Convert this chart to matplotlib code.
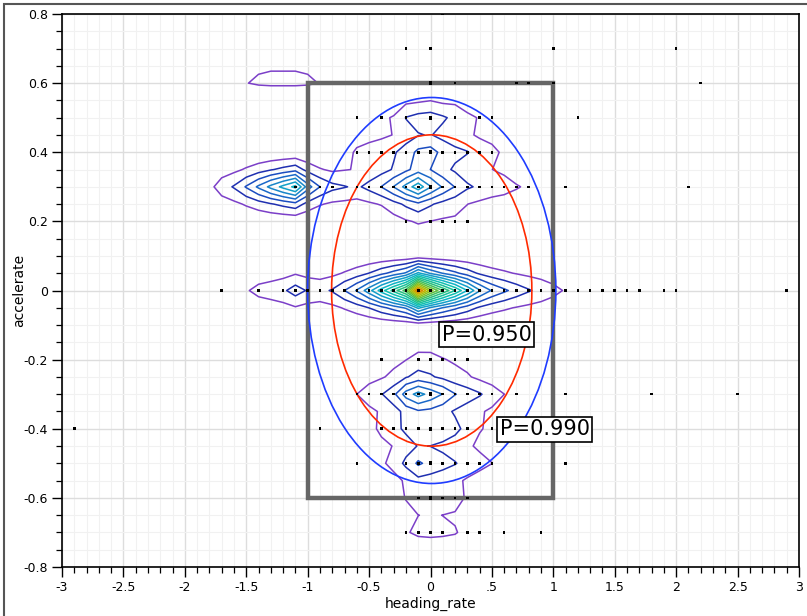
import numpy as np
import matplotlib
matplotlib.use("Agg")
import matplotlib.pyplot as plt
from matplotlib.patches import Ellipse, Rectangle
from matplotlib.ticker import MultipleLocator

# ---------------- data ----------------
# observed (heading_rate, accelerate) sample positions (drawn as dots)
dot_rows_y = [0.8, 0.7, 0.6, 0.5, 0.4, 0.3, 0.2, 0.0, -0.2, -0.3, -0.4, -0.5, -0.6, -0.7]
dot_rows_x = [
    [0.1],
    [-0.2, 0.0, 1.0, 2.0],
    [0.0, 0.2, 0.7, 0.8, 1.0, 2.2],
    [-0.6, -0.4, -0.2, 0.0, 0.2, 0.4, 0.5, 1.2],
    [-0.6, -0.5, -0.4, -0.3, -0.2, -0.1, 0.0, 0.1, 0.2, 0.3, 0.4, 0.5],
    [-1.1, -0.9, -0.8, -0.6, -0.5, -0.4, -0.3, -0.2, -0.1, 0.0, 0.1, 0.2, 0.3,
     0.4, 0.5, 0.6, 0.7, 0.8, 1.1, 2.1],
    [-0.2, 0.0, 0.1, 0.2, 0.3],
    [-1.7, -1.4, -1.2, -1.1, -1.0, -0.9, -0.8, -0.7, -0.6, -0.5, -0.4, -0.3, -0.2,
     -0.1, 0.0, 0.1, 0.2, 0.3, 0.4, 0.5, 0.6, 0.7, 0.8, 0.9, 1.0, 1.1, 1.2, 1.3,
     1.4, 1.5, 1.6, 1.7, 1.9, 2.0, 2.9],
    [-0.4, -0.1, 0.0, 0.1, 0.2, 0.3],
    [-0.6, -0.5, -0.4, -0.3, -0.2, -0.1, 0.0, 0.1, 0.2, 0.3, 0.4, 0.5, 0.7, 1.1, 1.8, 2.5],
    [-2.9, -0.9, -0.4, -0.3, -0.2, -0.1, 0.0, 0.1, 0.2, 0.3, 0.5],
    [-0.6, -0.2, -0.1, 0.0, 0.1, 0.2, 0.3, 0.4, 0.5, 1.1],
    [-0.1, 0.0, 0.1, 0.2, 0.3],
    [-0.2, -0.1, 0.0, 0.1, 0.3, 0.4, 0.6, 0.9],
]

# weighted support of the density estimate (row y, x positions, weights)
dens_rows_y = [0.8, 0.7, 0.62, 0.6, 0.5, 0.4, 0.3, 0.2, 0.0, -0.2, -0.3, -0.4, -0.5, -0.6, -0.7]
dens_rows_x = [
    [0.1],
    [-0.2, 0.0, 1.0, 2.0],
    [-1.5, -1.4, -1.3, -1.2, -1.1, -1.0, -0.9],
    [0.0, 0.2, 0.7, 0.8, 1.0, 2.2],
    [-0.7, -0.6, -0.5, -0.4, -0.3, -0.2, -0.1, 0.0, 0.1, 0.2, 0.3, 0.4, 0.5, 0.6, 1.2],
    [-0.7, -0.6, -0.5, -0.4, -0.3, -0.2, -0.1, 0.0, 0.1, 0.2, 0.3, 0.4, 0.5, 0.6],
    [-1.9, -1.8, -1.7, -1.6, -1.5, -1.4, -1.3, -1.2, -1.1, -1.0, -0.9, -0.8, -0.7,
     -0.6, -0.5, -0.4, -0.3, -0.2, -0.1, 0.0, 0.1, 0.2, 0.3, 0.4, 0.5, 0.6, 0.7,
     0.8, 1.1, 2.1],
    [-0.3, -0.2, -0.1, 0.0, 0.1, 0.2, 0.3, 0.4],
    [-1.7, -1.6, -1.5, -1.4, -1.3, -1.2, -1.1, -1.0, -0.9, -0.8, -0.7, -0.6, -0.5,
     -0.4, -0.3, -0.2, -0.1, 0.0, 0.1, 0.2, 0.3, 0.4, 0.5, 0.6, 0.7, 0.8, 0.9,
     1.0, 1.1, 1.2, 1.3, 1.4, 1.5, 1.6, 1.7, 1.9, 2.0, 2.9],
    [-0.5, -0.4, -0.3, -0.2, -0.1, 0.0, 0.1, 0.2, 0.3],
    [-0.8, -0.7, -0.6, -0.5, -0.4, -0.3, -0.2, -0.1, 0.0, 0.1, 0.2, 0.3, 0.4, 0.5,
     0.6, 0.7, 1.1, 1.8, 2.5],
    [-2.9, -1.0, -0.9, -0.5, -0.4, -0.3, -0.2, -0.1, 0.0, 0.1, 0.2, 0.3, 0.4, 0.5, 0.6],
    [-0.7, -0.6, -0.5, -0.4, -0.3, -0.2, -0.1, 0.0, 0.1, 0.2, 0.3, 0.4, 0.5, 0.6, 1.1],
    [-0.3, -0.2, -0.1, 0.0, 0.1, 0.2, 0.3, 0.4],
    [-0.3, -0.2, -0.1, 0.0, 0.1, 0.2, 0.3, 0.4, 0.6, 0.9],
]
dens_rows_w = [
    [0.3],
    [0.3, 0.3, 0.3, 0.3],
    [1.15, 1.3, 1.35, 1.35, 1.35, 1.3, 1.15],
    [0.3, 0.4, 0.4, 0.4, 0.4, 0.3],
    [0.4, 0.6, 0.7, 0.8, 1.05, 2.0, 2.3, 2.4, 2.1, 1.7, 1.2, 0.9, 0.8, 0.5, 0.4],
    [0.6, 1.1, 1.3, 1.5, 1.8, 2.3, 3.1, 3.3, 2.6, 2.2, 2.0, 1.5, 1.2, 0.8],
    [0.3, 0.7, 1.5, 2.1, 3.1, 4.2, 5.3, 6.3, 7.3, 4.5, 3.0, 2.3, 2.05,
     1.8, 2.3, 3.0, 4.0, 5.3, 6.6, 5.0, 3.8, 2.9, 2.1, 1.8, 1.6, 1.4, 1.1,
     0.8, 0.4, 0.3],
    [0.5, 0.8, 1.0, 0.9, 0.8, 0.8, 0.7, 0.4],
    [0.5, 0.6, 0.9, 1.3, 1.5, 1.8, 2.5, 1.9, 1.7, 2.1, 3.0, 4.1, 5.6,
     7.5, 9.4, 11.5, 17.3, 13.5, 11.0, 9.0, 7.0, 5.1, 3.9, 3.2, 2.6, 2.1, 1.7,
     1.3, 0.9, 0.6, 0.5, 0.5, 0.5, 0.5, 0.5, 0.4, 0.4, 0.3],
    [0.3, 0.6, 0.7, 0.9, 1.3, 1.3, 1.0, 0.8, 0.6],
    [0.4, 0.7, 1.0, 1.5, 1.9, 2.7, 4.4, 5.3, 4.6, 3.9, 3.0, 2.5, 2.1, 1.5,
     1.0, 0.7, 0.4, 0.3, 0.3],
    [0.3, 0.3, 0.4, 0.6, 1.2, 1.6, 2.1, 2.6, 2.9, 2.6, 2.2, 1.6, 1.0, 0.8, 0.4],
    [0.3, 0.5, 0.5, 0.8, 1.3, 2.2, 3.1, 2.6, 2.3, 2.0, 1.6, 1.3, 1.0, 0.5, 0.3],
    [0.5, 1.0, 1.6, 1.8, 1.6, 1.4, 0.8, 0.3],
    [0.4, 0.9, 1.15, 1.2, 1.15, 1.05, 0.7, 0.6, 0.4, 0.3],
]

contour_levels = list(range(1, 18))
contour_colors = ['#7b3fc8', '#1f2fb0', '#1a4cc0', '#1a68c8', '#1886c8', '#12a0c8',
                  '#10b4c4', '#10c0b0', '#18c098', '#28c080', '#40c060', '#60c040',
                  '#88c020', '#a8c010', '#c8b000', '#d88800', '#e05000']

# Gaussian fit used for the probability ellipses
fit_center = (0.01, 0.0)
fit_sd = (0.333, 0.184)
ellipse_probs = [0.95, 0.99]
ellipse_colors = ['#ff2a00', '#1f3cff']
ellipse_labels = ['P=0.950', 'P=0.990']
label_pos = [(0.09, -0.128), (0.565, -0.402)]

box_x = (-1.0, 1.0)
box_y = (-0.6, 0.6)

xtick_vals = [-3, -2.5, -2, -1.5, -1, -0.5, 0, 0.5, 1, 1.5, 2, 2.5, 3]
xtick_labels = ['-3', '-2.5', '-2', '-1.5', '-1', '-0.5', '0', '.5', '1', '1.5', '2', '2.5', '3']
ytick_vals = [-0.8, -0.6, -0.4, -0.2, 0, 0.2, 0.4, 0.6, 0.8]
ytick_labels = ['-0.8', '-0.6', '-0.4', '-0.2', '0', '0.2', '0.4', '0.6', '0.8']

# ---------------- figure ----------------
plt.rcParams['font.family'] = ['DejaVu Sans']
fig = plt.figure(figsize=(8.07, 6.16), dpi=100)
ax = fig.add_axes([62 / 807, 49 / 616, 737 / 807, 553 / 616])

# density on a coarse grid
xg = np.linspace(-3, 3, 61)
yg = np.linspace(-0.8, 0.8, 33)
X, Y = np.meshgrid(xg, yg)
Z = np.zeros_like(X)
for ry, rxs, rws in zip(dens_rows_y, dens_rows_x, dens_rows_w):
    for rx, rw in zip(rxs, rws):
        kx = np.clip(1 - np.abs(X - rx) / 0.1, 0, None)
        ky = np.exp(-0.5 * ((Y - ry) / 0.035) ** 2)
        Z += rw * kx * ky

ax.contour(X, Y, Z, levels=contour_levels, colors=contour_colors,
           linewidths=1.1, zorder=3)

# box
ax.add_patch(Rectangle((box_x[0], box_y[0]), box_x[1] - box_x[0], box_y[1] - box_y[0],
                       fill=False, edgecolor='#666666', linewidth=3.2, zorder=4))

# probability ellipses
for p, c in zip(ellipse_probs, ellipse_colors):
    r = np.sqrt(-2 * np.log(1 - p))
    ax.add_patch(Ellipse(fit_center, 2 * r * fit_sd[0], 2 * r * fit_sd[1],
                         fill=False, edgecolor=c, linewidth=1.2, zorder=5))

# dots
dx, dy, ds = [], [], []
for ry, rxs in zip(dot_rows_y, dot_rows_x):
    for rx in rxs:
        dx.append(rx)
        dy.append(ry)
        ds.append(7 if rx == 0.0 else 3.5)
ax.scatter(dx, dy, s=ds, marker='s', color='black', linewidths=0, zorder=6)

# labels
for (lx, ly), t in zip(label_pos, ellipse_labels):
    ax.text(lx, ly, t, fontsize=15, ha='left', va='center', zorder=7,
            bbox=dict(boxstyle='square,pad=0.12', facecolor='white',
                      edgecolor='black', linewidth=1.2))

ax.set_xlim(-3, 3)
ax.set_ylim(-0.8, 0.8)
ax.set_xticks(xtick_vals)
ax.set_xticklabels(xtick_labels)
ax.set_yticks(ytick_vals)
ax.set_yticklabels(ytick_labels)
ax.xaxis.set_minor_locator(MultipleLocator(0.1))
ax.yaxis.set_minor_locator(MultipleLocator(0.05))
ax.tick_params(which='major', direction='out', length=7, width=1.0, labelsize=9,
               colors='black', pad=3)
ax.tick_params(which='minor', direction='out', length=4, width=0.9)
ax.grid(which='major', color='#dddddd', linewidth=1.0, zorder=0)
ax.grid(which='minor', color='#f1f1f1', linewidth=0.8, zorder=0)
ax.set_axisbelow(True)
for sp in ax.spines.values():
    sp.set_linewidth(1.2)
    sp.set_color('black')

ax.set_xlabel('heading_rate', fontsize=10, labelpad=2)
ax.set_ylabel('accelerate', fontsize=10)
ax.yaxis.set_label_coords(-(62 - 26) / 737, 0.5)

fig.patches.append(Rectangle((4 / 807, -0.05), 1.2, 1 - 4 / 616 + 0.05,
                             transform=fig.transFigure, fill=False,
                             edgecolor='#555555', linewidth=1.5))

fig.savefig('out.png', dpi=100)
